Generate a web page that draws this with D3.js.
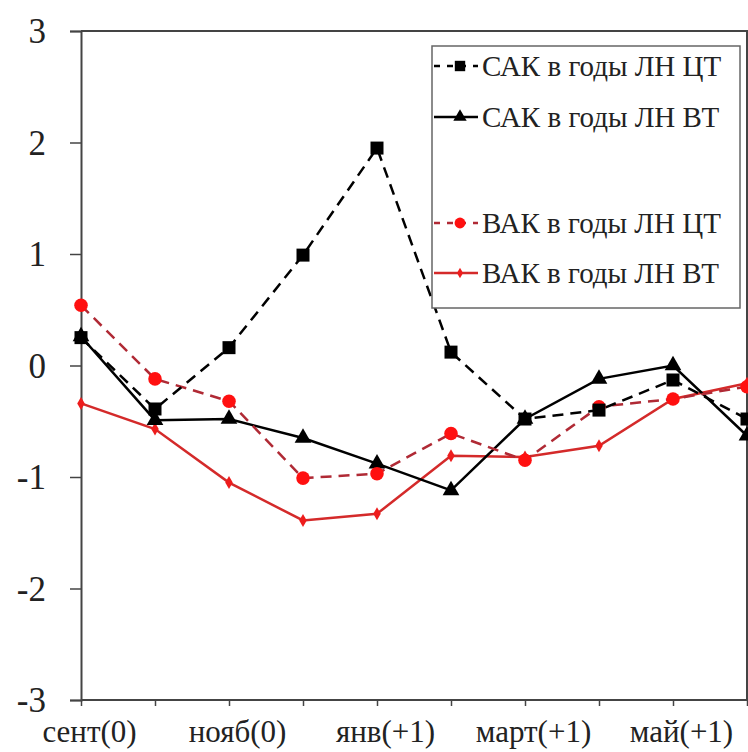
<!DOCTYPE html>
<html>
<head>
<meta charset="utf-8">
<script src="https://cdn.jsdelivr.net/npm/d3@7"></script>
<style>
  body { margin: 0; background: #fff; }
  svg { display: block; }
</style>
</head>
<body>
<div id="chart"></div>
<script>
// months on the x axis, only every second one is labelled
var months = ['сент(0)', 'окт(0)', 'нояб(0)', 'дек(0)', 'янв(+1)', 'фев(+1)', 'март(+1)', 'апр(+1)', 'май(+1)', 'июнь(+1)'];
var yTicks = [-3, -2, -1, 0, 1, 2, 3];

var sakCT = [0.25, -0.39, 0.16, 0.99, 1.95, 0.12, -0.48, -0.40, -0.13, -0.48];
var sakVT = [0.26, -0.49, -0.48, -0.65, -0.88, -1.12, -0.48, -0.12, 0.0, -0.63];
var vakCT = [0.54, -0.12, -0.32, -1.01, -0.97, -0.61, -0.85, -0.37, -0.30, -0.19];
var vakVT = [-0.34, -0.57, -1.05, -1.39, -1.33, -0.81, -0.82, -0.72, -0.30, -0.16];

var seriesNames = ['САК в годы ЛН ЦТ', 'САК в годы ЛН ВТ', 'ВАК в годы ЛН ЦТ', 'ВАК в годы ЛН ВТ'];

var W = 748, H = 752;
var plotLeft = 81, plotRight = 747, plotTop = 31, plotBottom = 700;
var axisColor = '#444';
var serif = 'Liberation Serif, Times New Roman, serif';

var styles = [
  { values: sakCT, line: '#000', dash: '11,7', marker: 'square', fill: '#000', size: 13 },
  { values: sakVT, line: '#000', dash: null, marker: 'triangle', fill: '#000', size: 11 },
  { values: vakCT, line: '#b02a35', dash: '11,7', marker: 'circle', fill: '#ff1010', size: 12 },
  { values: vakVT, line: '#d42a2a', dash: null, marker: 'diamond', fill: '#ee1c1c', size: 7 }
];

var x = d3.scalePoint().domain(months).range([plotLeft, plotRight]);
var y = d3.scaleLinear().domain([-3, 3]).range([plotBottom, plotTop]);

var svg = d3.select('#chart').append('svg')
  .attr('width', W)
  .attr('height', H);

// frame: top and right edges
svg.append('path')
  .attr('d', 'M' + plotLeft + ',' + plotTop + 'H' + plotRight + 'V' + plotBottom)
  .attr('fill', 'none')
  .attr('stroke', axisColor)
  .attr('stroke-width', 2);

// y axis
var yAxis = svg.append('g')
  .attr('transform', 'translate(' + plotLeft + ',0)')
  .call(d3.axisLeft(y).tickValues(yTicks).tickSize(11).tickPadding(0).tickFormat(d3.format('d')));
yAxis.attr('font-family', serif);
yAxis.select('.domain').attr('stroke', axisColor).attr('stroke-width', 2);
yAxis.selectAll('.tick line').attr('stroke', axisColor).attr('stroke-width', 1.5);
yAxis.selectAll('.tick text')
  .attr('x', -35)
  .attr('dy', '0.34em')
  .attr('font-size', 35)
  .attr('fill', '#222')
  .text(function(d) { return d < 0 ? '-' + Math.abs(d) : d; });

// x axis
var xAxis = svg.append('g')
  .attr('transform', 'translate(0,' + plotBottom + ')')
  .call(d3.axisBottom(x).tickSize(6).tickPadding(0));
xAxis.attr('font-family', serif);
xAxis.select('.domain').attr('stroke', axisColor).attr('stroke-width', 2).attr('d', 'M' + plotLeft + ',0H' + plotRight);
xAxis.selectAll('.tick line').attr('stroke', axisColor).attr('stroke-width', 1.5);
xAxis.selectAll('.tick text')
  .attr('y', 0)
  .attr('dy', 42)
  .attr('dx', 8)
  .attr('font-size', 31)
  .attr('fill', '#222')
  .text(function(d, i) { return i % 2 === 0 ? d : ''; });

function markerPath(type, size) {
  var sym = {
    square: d3.symbolSquare,
    triangle: d3.symbolTriangle,
    circle: d3.symbolCircle,
    diamond: d3.symbolDiamond
  }[type];
  return d3.symbol().type(sym).size(size * size)();
}

var line = d3.line()
  .x(function(d, i) { return x(months[i]); })
  .y(function(d) { return y(d); });

// draw solid series below dashed ones, markers on top
var order = [3, 1, 2, 0];
order.forEach(function(k) {
  var s = styles[k];
  svg.append('path')
    .datum(s.values)
    .attr('d', line)
    .attr('fill', 'none')
    .attr('stroke', s.line)
    .attr('stroke-width', 2.5)
    .attr('stroke-dasharray', s.dash);
});
order.forEach(function(k) {
  var s = styles[k];
  svg.append('g').selectAll('path')
    .data(s.values)
    .join('path')
    .attr('transform', function(d, i) { return 'translate(' + x(months[i]) + ',' + y(d) + ')'; })
    .attr('d', markerPath(s.marker, s.size))
    .attr('fill', s.fill);
});

// legend
var legend = svg.append('g').attr('font-family', serif);
legend.append('rect')
  .attr('x', 432).attr('y', 46)
  .attr('width', 308).attr('height', 262)
  .attr('fill', '#fff')
  .attr('stroke', '#666')
  .attr('stroke-width', 1.5);

var legendY = [66, 117, 223, 273];
styles.forEach(function(s, k) {
  var g = legend.append('g').attr('transform', 'translate(0,' + legendY[k] + ')');
  g.append('line')
    .attr('x1', 434).attr('x2', 478)
    .attr('y1', 0).attr('y2', 0)
    .attr('stroke', s.line)
    .attr('stroke-width', 2.5)
    .attr('stroke-dasharray', s.dash ? '6,7' : null);
  g.append('path')
    .attr('transform', 'translate(460,0)')
    .attr('d', markerPath(s.marker, s.size * 0.8))
    .attr('fill', s.fill);
  g.append('text')
    .attr('x', 482)
    .attr('y', 0)
    .attr('dy', '0.35em')
    .attr('font-size', 29)
    .attr('fill', '#222')
    .text(seriesNames[k]);
});
</script>
</body>
</html>
